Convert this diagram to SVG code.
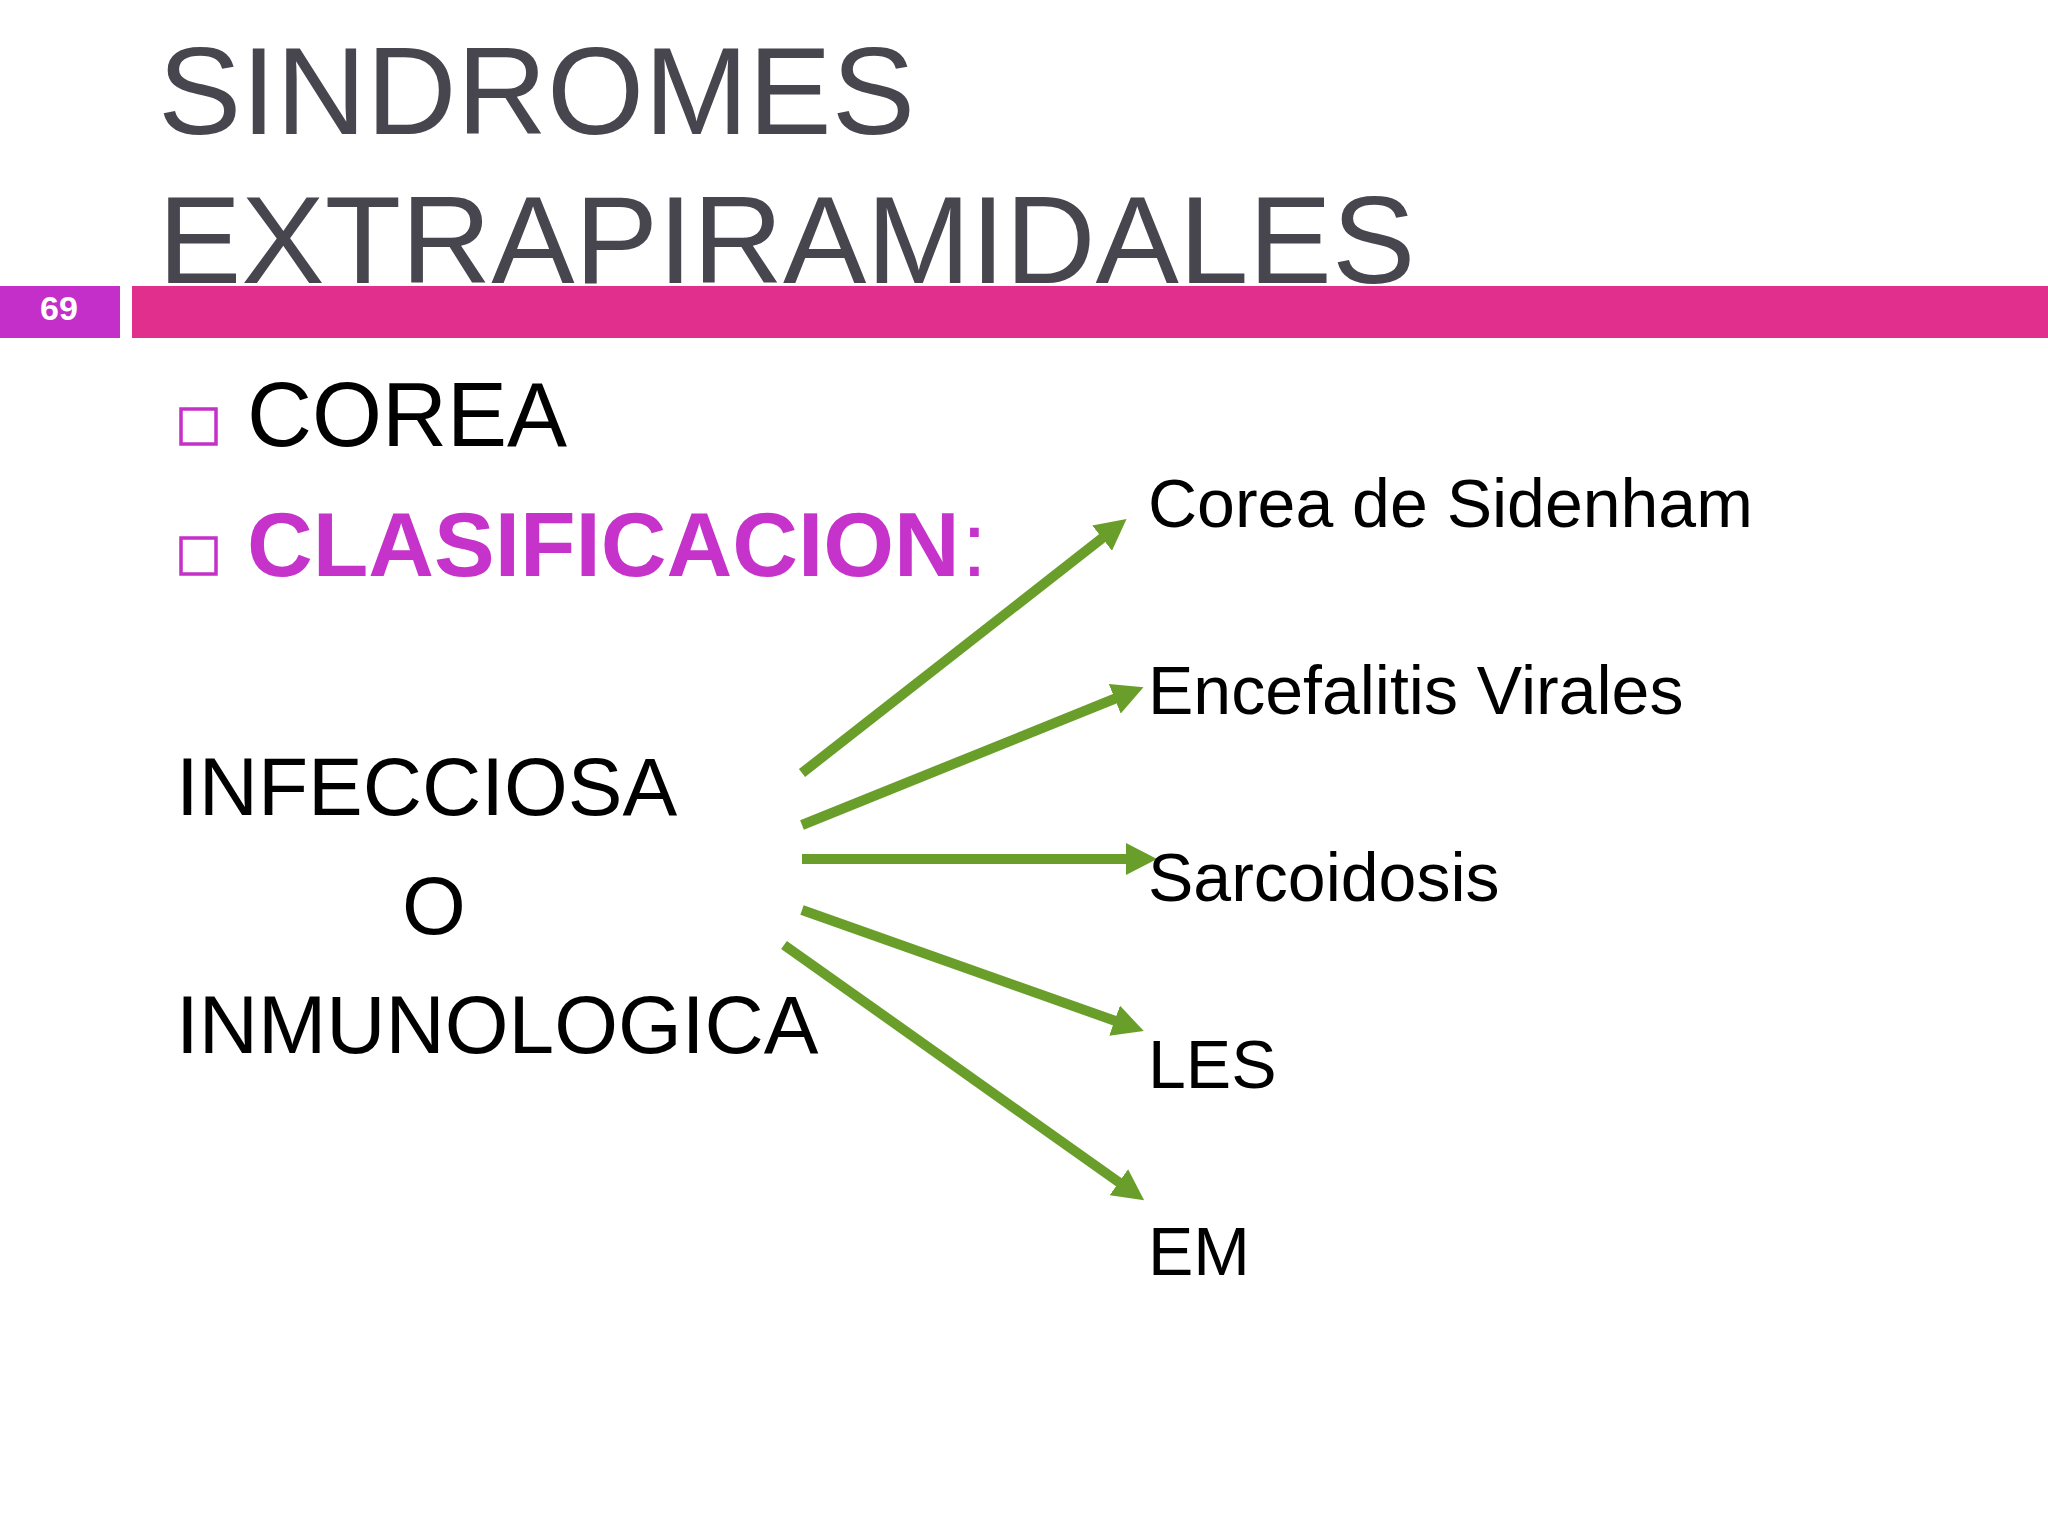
<svg xmlns="http://www.w3.org/2000/svg" width="2048" height="1536" viewBox="0 0 2048 1536">
<defs>
<style>
text{font-family:"Liberation Sans",Arial,sans-serif}
.title{font-size:125px;fill:#47464f}
.bul{fill:none;stroke:#c530c8;stroke-width:3.5}
.main{font-size:90px;fill:#000}
.cls{font-size:91px;fill:#c533cb;font-weight:bold}
.big{font-size:82px;fill:#000}
.lbl{font-size:68px;fill:#000}
.arr{stroke:#6a9e2a;stroke-width:10;fill:none;marker-end:url(#ah)}
</style>
<marker id="ah" markerUnits="userSpaceOnUse" markerWidth="32" markerHeight="32" refX="10" refY="16" orient="auto">
<path d="M0,0 L31,16 L0,32 z" fill="#6a9e2a"/>
</marker>
</defs>
<rect width="2048" height="1536" fill="#ffffff"/>
<g id="title">
<text class="title" x="158" y="134">SINDROMES</text>
<text class="title" x="158" y="283">EXTRAPIRAMIDALES</text>
</g>
<g id="header-bar">
<rect x="0" y="286" width="120" height="52" fill="#c42fc9"/>
<rect x="132" y="286" width="1916" height="52" fill="#e02f8c"/>
<text x="59" y="320" text-anchor="middle" font-size="34" font-weight="bold" fill="#ffffff">69</text>
</g>
<g id="bullet-corea">
<rect class="bul" x="181" y="409" width="35" height="35"/>
<text class="main" x="247" y="446">COREA</text>
</g>
<g id="bullet-clasificacion">
<rect class="bul" x="181" y="538" width="35" height="36"/>
<text class="cls" x="247" y="576">CLASIFICACION<tspan font-weight="normal" dx="2">:</tspan></text>
</g>
<g id="source">
<text class="big" x="176" y="815">INFECCIOSA</text>
<text class="big" x="434" y="934" text-anchor="middle">O</text>
<text class="big" x="176" y="1053">INMUNOLOGICA</text>
</g>
<g id="connectors">
<line class="arr" x1="802" y1="773" x2="1110" y2="532"/>
<line class="arr" x1="802" y1="825" x2="1124" y2="695"/>
<line class="arr" x1="802" y1="859" x2="1136" y2="859"/>
<line class="arr" x1="802" y1="910" x2="1124" y2="1024"/>
<line class="arr" x1="784" y1="945" x2="1127" y2="1188"/>
</g>
<g id="n-sidenham"><text class="lbl" x="1148" y="527">Corea de Sidenham</text></g>
<g id="n-encefalitis"><text class="lbl" x="1148" y="714">Encefalitis Virales</text></g>
<g id="n-sarcoidosis"><text class="lbl" x="1148" y="901">Sarcoidosis</text></g>
<g id="n-les"><text class="lbl" x="1148" y="1088">LES</text></g>
<g id="n-em"><text class="lbl" x="1148" y="1275">EM</text></g>
</svg>
